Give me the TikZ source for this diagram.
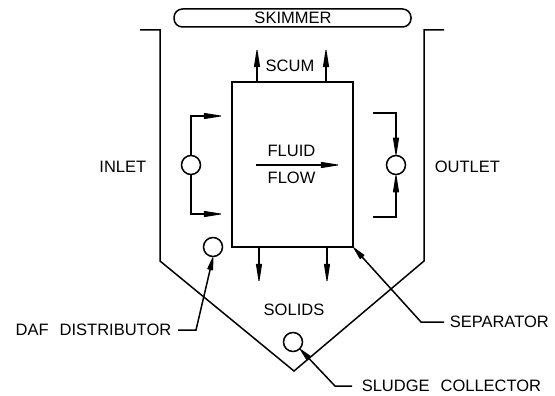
\documentclass[tikz,border=0pt]{standalone}
\usepackage{fontspec}
\setmainfont{Liberation Sans}
\usetikzlibrary{arrows.meta}
\tikzset{
  x=1pt,y=-1pt,
  every path/.style={line width=1.5pt,line join=miter},
  tip/.style={-{Triangle[round,length=20pt,width=6pt,line width=1pt]}},
  shorttip/.style={-{Triangle[round,length=15pt,width=6pt,line width=1pt]}},
  lbl/.style={inner sep=0pt,font=\fontsize{16.5}{16.5}\selectfont},
  ring/.style={circle,draw,minimum size=19pt,inner sep=0pt},
}
\begin{document}
\begin{tikzpicture}
\useasboundingbox (0,0) rectangle (555,396);
% tank
\draw (140,30) -- (160,30) -- (160,261) -- (294,371) -- (424,261) -- (424,30) -- (444,30);
% skimmer
\node[draw,rounded corners=8.5pt,minimum width=237pt,minimum height=18pt,inner sep=0pt] (skim) at (292.5,18) {};
\node[lbl] (skimt) at (293,18) {SKIMMER};
% separator
\node[draw,minimum width=121pt,minimum height=165pt,inner sep=0pt] (box) at (292.5,164.5) {};
\node[lbl] (scum) at (290,66) {SCUM};
\node[lbl] (fluid) at (291.5,151) {FLUID};
\node[lbl] (flow) at (291.5,178) {FLOW};
\node[lbl] (solids) at (294,310) {SOLIDS};
\node[lbl,anchor=east] (inlet) at (147,167) {INLET};
\node[lbl,anchor=west] (outlet) at (434,167) {OUTLET};
% scum, solids arrows
\coordinate (s1a) at (257,82); \coordinate (s1b) at (257,50);
\coordinate (s2a) at (326,82); \coordinate (s2b) at (326,50);
\coordinate (d1a) at (259,248); \coordinate (d1b) at (259,281);
\coordinate (d2a) at (327,248); \coordinate (d2b) at (327,281);
\draw[tip] (s1a) -- (s1b);
\draw[tip] (s2a) -- (s2b);
\draw[tip] (d1a) -- (d1b);
\draw[tip] (d2a) -- (d2b);
% fluid flow
\coordinate (fa) at (256,165); \coordinate (fb) at (338,165);
\draw[tip] (fa) -- (fb);
% inlet
\node[ring] (in) at (191,165) {};
\coordinate (i1) at (191,116); \coordinate (i1e) at (221,116);
\coordinate (i2) at (191,214); \coordinate (i2e) at (221,214);
\draw[tip] (in) -- (i1) -- (i1e);
\draw[tip] (in) -- (i2) -- (i2e);
% outlet
\node[ring] (out) at (396,165) {};
\coordinate (o1s) at (373,113); \coordinate (o1) at (396,113);
\coordinate (o2s) at (373,217); \coordinate (o2) at (396,217);
\draw[tip] (o1s) -- (o1) -- (out.north);
\draw[tip] (o2s) -- (o2) -- (out.south);
% leaders
\node[ring] (daf) at (213,247) {};
\node[ring] (sludge) at (293,342) {};
\node[lbl,anchor=west] (dafl) at (15,330) {DAF\hspace{11pt}DISTRIBUTOR};
\node[lbl,anchor=west] (sepl) at (449,322) {SEPARATOR};
\node[lbl,anchor=west] (sll) at (361,386) {SLUDGE\hspace{11pt}COLLECTOR};
\coordinate (de) at (196,330); \coordinate (ds) at (178,330);
\coordinate (se) at (421,322); \coordinate (ss) at (444,322);
\coordinate (le) at (335,386); \coordinate (ls) at (352,386);
\coordinate (sepc) at (box.south east);
\draw[shorttip] (ds) -- (de) -- (daf.south);
\draw[shorttip] (ss) -- (se) -- (sepc);
\draw[shorttip] (ls) -- (le) -- (sludge.south east);
\end{tikzpicture}
\end{document}
